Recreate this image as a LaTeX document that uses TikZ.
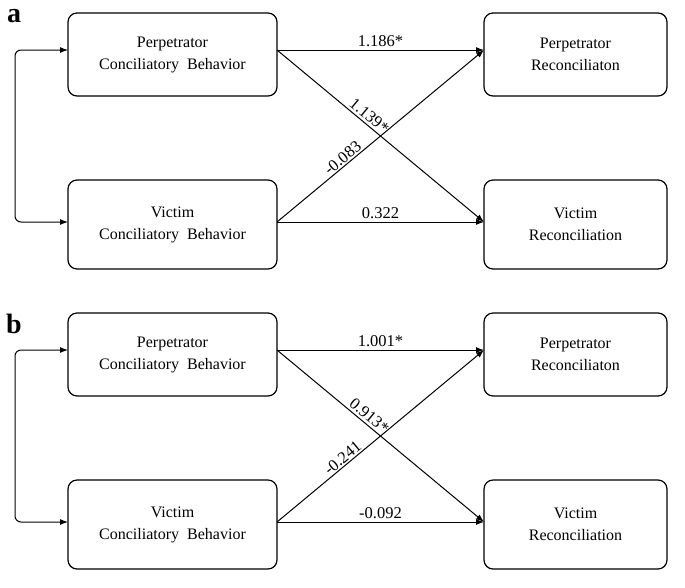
\documentclass[tikz,border=0pt]{standalone}
\usepackage{fontspec}
\setmainfont{Liberation Serif}
\usetikzlibrary{arrows.meta}
\begin{document}
\begin{tikzpicture}[x=1pt,y=-1pt,
 box/.style={draw,line width=1.2pt,rounded corners=9pt,minimum width=209pt,minimum height=83pt,align=center,font=\fontsize{16}{22}\selectfont},
 rbox/.style={box,minimum width=183pt},
 arr/.style={-{Latex[length=8pt,width=6pt]},line width=1pt},
 lab/.style={font=\fontsize{16.5}{18}\selectfont}]
\useasboundingbox (0,0) rectangle (685,587);
\foreach \p/\o/\la/\lb/\lc/\ld in {a/0/1.186*/1.139*/-0.083/0.322, b/300/1.001*/0.913*/-0.241/-0.092}{
 \node[font=\bfseries\fontsize{28}{28}\selectfont] (L\p) at (14,16+\o+\o*0.027) {\p};
 \node[box] (pc\p) at (172.5,54.5+\o) {Perpetrator\\Conciliatory\ \ Behavior};
 \node[box,minimum height=89pt] (vc\p) at (172.5,224.5+\o) {Victim\\Conciliatory\ \ Behavior};
 \node[rbox] (pr\p) at (575.5,54.5+\o) {Perpetrator\\Reconciliaton};
 \node[rbox,minimum height=89pt] (vr\p) at (575.5,224.5+\o) {Victim\\Reconciliation};
 \coordinate (s1\p) at (277,50+\o); \coordinate (s2\p) at (277,222+\o);
 \coordinate (t1\p) at (484,50+\o); \coordinate (t2\p) at (484,222+\o);
 \draw[arr] (s1\p) -- node[lab,above,yshift=-1pt] {\la} (t1\p);
 \draw[arr] (s1\p) -- node[lab,pos=0.42,above,sloped,yshift=-1pt] {\lb} (t2\p);
 \draw[arr] (s2\p) -- node[lab,pos=0.34,above,sloped,yshift=-2pt] {\lc} (t1\p);
 \draw[arr] (s2\p) -- node[lab,above,yshift=-1pt] {\ld} (t2\p);
 \draw[arr,{Latex[length=8pt,width=6pt]}-{Latex[length=8pt,width=6pt]},rounded corners=6pt] (68,50+\o) -- (15,50+\o) -- (15,222+\o) -- (68,222+\o);
}
\end{tikzpicture}
\end{document}
